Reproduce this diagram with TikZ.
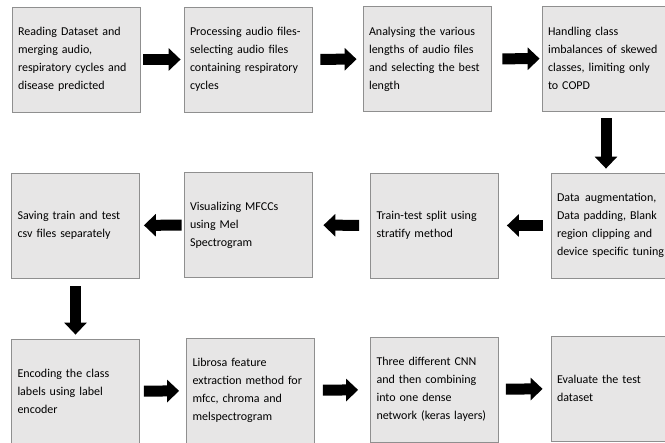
\documentclass[tikz,border=0pt]{standalone}
\usepackage{fontspec}
\setmainfont{Carlito}
\usepackage{xcolor}
\usepackage{tikz}
\usetikzlibrary{positioning, arrows.meta}
\definecolor{boxgray}{HTML}{E7E6E6}
\definecolor{edgegray}{HTML}{8F8F8F}

\tikzset{
    stepbox/.style={draw=edgegray, line width=0.8pt, fill=boxgray,
          minimum width=128pt, minimum height=105pt, inner xsep=6pt,
          text width=116pt, align=left, font=\fontsize{12}{18}\selectfont},
    flow/.style={line width=11pt, -{Triangle[length=12pt, width=22pt]}}
}

\begin{document}
\begin{tikzpicture}[x=1pt, y=-1pt]
    \useasboundingbox (0,0) rectangle (665,443);
    \clip (0,0) rectangle (665,443);

    \node[stepbox] (read) at (76,59.5) {Reading Dataset and\\ merging audio,\\
      respiratory cycles and\\ disease predicted};
    \node[stepbox] (process) at (248,59.5) {Processing audio files-\\
      selecting audio files\\ containing respiratory\\ cycles};
    \node[stepbox] (analyse) at (427,59) {Analysing the various\\
      lengths of audio files\\ and selecting the best\\ length};
    \node[stepbox] (balance) at (606,58.5) {Handling class\\
      imbalances of skewed\\ classes, limiting only\\ to COPD};

    \node[stepbox] (augment) at (615,225.5) {Data\hspace{0.45em}augmentation,\\
      Data padding, Blank\\ region clipping and\\ device specific tuning};
    \node[stepbox] (split) at (434.5,225.5) {Train-test split using\\
      stratify method\\[8pt]};
    \node[stepbox] (mfcc) at (248,225) {Visualizing MFCCs\\ using Mel\\ Spectrogram};
    \node[stepbox] (save) at (75.5,225.5) {Saving train and test\\
      csv files separately};

    \node[stepbox] (encode) at (75.5,391.5) {Encoding the class\\
      labels using label\\ encoder};
    \node[stepbox] (librosa) at (250.5,390.5) {Librosa feature\\
      extraction method for\\ mfcc, chroma and\\ melspectrogram};
    \node[stepbox] (cnn) at (434.5,389.5) {Three different CNN\\
      and then combining\\ into one dense\\ network (keras layers)};
    \node[stepbox] (evaluate) at (615,388.5) {Evaluate the test\\ dataset};

    \draw[flow, shorten <=3pt, shorten >=3pt] (read) -- (process);
    \draw[flow, shorten <=8pt, shorten >=6pt] (process) -- (analyse);
    \draw[flow, shorten <=11pt, shorten >=2pt] (analyse) -- (balance);
    \draw[flow, shorten <=7pt, shorten >=4pt] (balance.south) -- (balance.south |- augment.north);
    \draw[flow, shorten <=8pt, shorten >=8pt] (augment) -- (split);
    \draw[flow, shorten <=11pt, shorten >=11pt] (split) -- (mfcc);
    \draw[flow, shorten <=2pt, shorten >=4pt] (mfcc) -- (save);
    \draw[flow, shorten <=8pt, shorten >=4pt] (save.south) -- (save.south |- encode.north);
    \draw[flow, shorten <=4pt, shorten >=7pt] (encode) -- (librosa);
    \draw[flow, shorten <=8pt, shorten >=12pt] (librosa) -- (cnn);
    \draw[flow, shorten <=7pt, shorten >=8pt] (cnn) -- (evaluate);
\end{tikzpicture}
\end{document}
